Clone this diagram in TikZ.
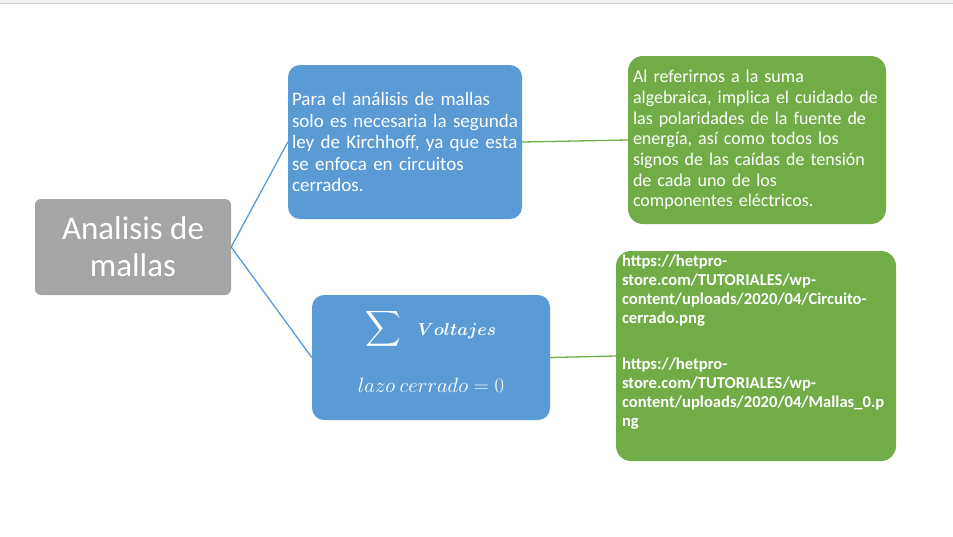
\documentclass[tikz,border=0pt]{standalone}
\usepackage{fontspec}
\usepackage{amsmath}
\usepackage{bm}
\setmainfont{Carlito}
\definecolor{azul}{HTML}{5B9BD5}
\definecolor{verde}{HTML}{70AD47}
\definecolor{gris}{HTML}{A5A5A5}
\begin{document}
\begin{tikzpicture}[x=1pt,y=-1pt]

        \useasboundingbox (0,0) rectangle (953,536);
        \fill[black!6] (0,0) rectangle (953,3);
        \draw[black!20] (0,3.5) -- (953,3.5);

        \begin{scope}[every node/.style={rounded corners=12pt, text=white, inner sep=0pt}]
          \node[fill=gris, rounded corners=6pt, minimum width=196pt, minimum height=96pt,
                align=center, font=\fontsize{33}{37}\selectfont] (1) at (133,247) {Analisis de\\mallas};
          \node[fill=azul, minimum width=234pt, minimum height=154pt, inner xsep=4pt,
                text width=226pt, align=left, font=\fontsize{19}{21.5}\selectfont] (2) at (405,142)
                {Para el análisis de mallas\\solo es necesaria la segunda\\ley de Kirchhoff, ya que esta\\se enfoca en circuitos\\cerrados.};
          \node[fill=azul, minimum width=238pt, minimum height=125pt, align=center,
                font=\fontsize{19.5}{21}\selectfont] (3) at (431,357.5)
                {{\fontsize{27}{27}\selectfont$\displaystyle\sum$}\hspace{16pt}{\fontsize{18.5}{18}\selectfont$\bm{Voltajes}$}\\[28pt]
                 $lazo\ cerrado=0$\rule[-14pt]{0pt}{14pt}};
          \node[fill=verde, rounded corners=15pt, minimum width=258pt, minimum height=168pt, inner xsep=5pt,
                text width=248pt, align=left, font=\fontsize{18}{20.7}\selectfont] (4) at (757,140)
                {Al referirnos a la suma\\algebraica, implica el cuidado de\\las polaridades de la fuente de\\energía, así como todos los\\signos de las caídas de tensión\\de cada uno de los\\componentes eléctricos.};
          \node[fill=verde, rounded corners=15pt, inner xsep=6pt, inner ysep=4pt,
                font=\fontsize{16.6}{18.8}\bfseries] (5) at (756,356)
                {\parbox[c][202pt][t]{268pt}{\raggedright https://hetpro-\\store.com/TUTORIALES/wp-\\content/uploads/2020/04/Circuito-\\cerrado.png\\[28pt]
                 https://hetpro-\\store.com/TUTORIALES/wp-\\content/uploads/2020/04/Mallas\_0.p\\ng}};
        \end{scope}

        \begin{scope}[every edge/.style={draw, line width=1.3pt}]
          \path (1.east) edge[azul] (2.west);
          \path (1.east) edge[azul] (3.west);
          \path (2.east) edge[verde] (4.west);
          \path (3.east) edge[verde] (5.west);
        \end{scope}

      \end{tikzpicture}
\end{document}
